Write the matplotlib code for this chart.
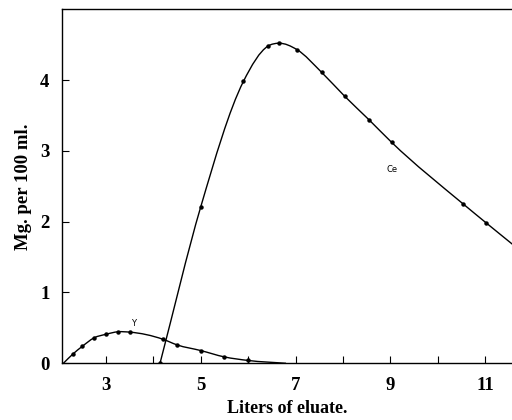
import matplotlib
matplotlib.use("Agg")
import matplotlib.pyplot as plt
import numpy as np
from matplotlib.path import Path
from matplotlib.patches import PathPatch

# Yttrium elution points (liters, mg per 100 ml)
y_liters = [2.3, 2.5, 2.75, 3.0, 3.25, 3.5, 4.2, 4.5, 5.0, 5.5, 6.0]
y_mg = [0.13, 0.24, 0.36, 0.41, 0.445, 0.44, 0.34, 0.26, 0.18, 0.09, 0.04]
# where the drawn Y curve starts and ends
y_curve_start = (2.1, 0.0)
y_curve_end = (6.8, 0.0)

# Cerium elution points
ce_liters = [4.14, 5.0, 5.9, 6.42, 6.65, 7.03, 7.55, 8.04, 8.55, 9.03, 10.54, 11.03]
ce_mg = [0.0, 2.21, 3.98, 4.48, 4.52, 4.43, 4.11, 3.77, 3.44, 3.12, 2.25, 1.98]
ce_curve_end = (11.6, 1.67)

x_ticks = [3, 5, 7, 9, 11]
y_ticks = [0, 1, 2, 3, 4]


def smooth_path(xs, ys):
    # cubic Hermite through the points, drawn as Bezier segments
    xs = np.asarray(xs, float)
    ys = np.asarray(ys, float)
    h = np.diff(xs)
    d = np.diff(ys) / h
    m = np.empty_like(xs)
    m[0] = d[0]
    m[-1] = d[-1]
    for i in range(1, len(xs) - 1):
        m[i] = (h[i] * d[i - 1] + h[i - 1] * d[i]) / (h[i - 1] + h[i])
    verts = [(xs[0], ys[0])]
    codes = [Path.MOVETO]
    for i in range(len(xs) - 1):
        verts += [(xs[i] + h[i] / 3, ys[i] + m[i] * h[i] / 3),
                  (xs[i + 1] - h[i] / 3, ys[i + 1] - m[i + 1] * h[i] / 3),
                  (xs[i + 1], ys[i + 1])]
        codes += [Path.CURVE4] * 3
    return Path(verts, codes)


plt.rcParams["font.family"] = ["Liberation Serif", "DejaVu Serif"]

fig = plt.figure(figsize=(5.12, 4.2), dpi=100)
ax = fig.add_axes([0.121, 0.135, 0.879, 0.843])

y_all_x = [y_curve_start[0]] + y_liters + [y_curve_end[0]]
y_all_y = [y_curve_start[1]] + y_mg + [y_curve_end[1]]
ax.add_patch(PathPatch(smooth_path(y_all_x, y_all_y), facecolor="none",
                       edgecolor="black", lw=1.0))
ax.plot(y_liters, y_mg, "o", color="black", ms=2.2)

ce_all_x = ce_liters + [ce_curve_end[0]]
ce_all_y = ce_mg + [ce_curve_end[1]]
ax.add_patch(PathPatch(smooth_path(ce_all_x, ce_all_y), facecolor="none",
                       edgecolor="black", lw=1.0))
ax.plot(ce_liters, ce_mg, "o", color="black", ms=2.2)

ax.text(3.59, 0.5, "Y", fontsize=6, family="DejaVu Sans", ha="center", va="bottom")
ax.text(9.03, 2.73, "Ce", fontsize=6, family="DejaVu Sans", ha="center", va="center")

ax.set_xlim(2.07, 11.57)
ax.set_ylim(0, 5.0)
ax.set_xticks(range(3, 12))
ax.set_xticklabels([str(t) if t in x_ticks else "" for t in range(3, 12)])
ax.set_yticks(y_ticks)
ax.set_yticklabels([str(t) for t in y_ticks])
ax.tick_params(direction="in", length=5, width=0.8, labelsize=13.5)
ax.tick_params(axis="x", pad=10)
ax.tick_params(axis="y", pad=9)
for lbl in ax.get_xticklabels() + ax.get_yticklabels():
    lbl.set_fontweight("bold")

ax.spines["right"].set_visible(False)
for s in ["left", "bottom", "top"]:
    ax.spines[s].set_linewidth(1.0)

ax.set_xlabel("Liters of eluate.", fontsize=13, fontweight="bold", labelpad=4)
ax.set_ylabel("Mg. per 100 ml.", fontsize=13.5, fontweight="bold", labelpad=6)

fig.savefig("out.png", dpi=100)
